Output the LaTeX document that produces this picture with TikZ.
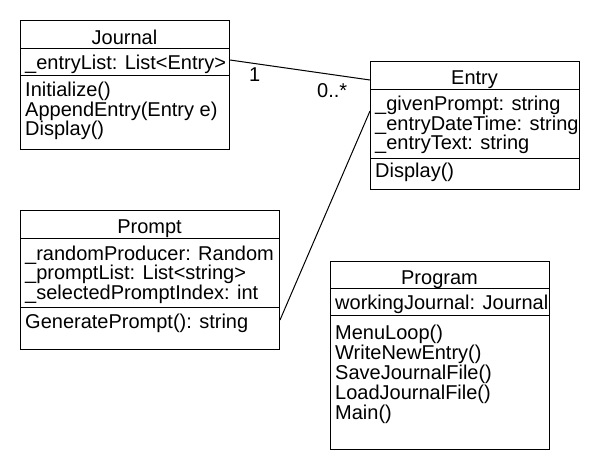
\documentclass[tikz,border=0pt]{standalone}
\usepackage{fontspec}
\setmainfont{Liberation Sans}
\begin{document}
\begin{tikzpicture}[x=1pt,y=-1pt,
  box/.style={draw, line width=1pt, inner sep=0pt, anchor=north west},
  txt/.style={inner sep=0pt, anchor=base west, font=\fontsize{20}{20}\selectfont},
  ttl/.style={inner sep=0pt, anchor=base, font=\fontsize{20}{20}\selectfont},
  sep/.style={line width=1pt},
  conn/.style={line width=1pt}]
\useasboundingbox (0,0) rectangle (600,470);

% ---------- Journal ----------
\node[box, minimum width=209pt, minimum height=129pt] (journal) at (20,20) {};
\draw[sep] (journal.west |- 0,49) -- (journal.east |- 0,49);
\draw[sep] (journal.west |- 0,76) -- (journal.east |- 0,76);
\node[ttl] (jt) at (124.5,44.5) {Journal};
\node[txt] (ja1) at (25,70) {\_entryList: List<Entry>};
\node[txt] (jm1) at (25,97) {Initialize()};
\node[txt] (jm2) at (25,116.5) {AppendEntry(Entry e)};
\node[txt] (jm3) at (25,136) {Display()};

% ---------- Entry ----------
\node[box, minimum width=209pt, minimum height=128pt] (entry) at (370,61) {};
\draw[sep] (entry.west |- 0,90) -- (entry.east |- 0,90);
\draw[sep] (entry.west |- 0,159) -- (entry.east |- 0,159);
\node[ttl] (et) at (474.5,85) {Entry};
\node[txt] (ea1) at (375,111) {\_givenPrompt: string};
\node[txt] (ea2) at (375,130.5) {\_entryDateTime: string};
\node[txt] (ea3) at (375,150) {\_entryText: string};
\node[txt] (em1) at (375,178) {Display()};

% ---------- Prompt ----------
\node[box, minimum width=259pt, minimum height=139pt] (prompt) at (20,210) {};
\draw[sep] (prompt.west |- 0,239) -- (prompt.east |- 0,239);
\draw[sep] (prompt.west |- 0,308) -- (prompt.east |- 0,308);
\node[ttl] (pt) at (149.5,234) {Prompt};
\node[txt] (pa1) at (25,260.5) {\_randomProducer: Random};
\node[txt] (pa2) at (25,280) {\_promptList: List<string>};
\node[txt] (pa3) at (25,299.5) {\_selectedPromptIndex: int};
\node[txt] (pm1) at (25,329) {GeneratePrompt(): string};

% ---------- Program ----------
\node[box, minimum width=219pt, minimum height=188pt] (program) at (330,261) {};
\draw[sep] (program.west |- 0,289) -- (program.east |- 0,289);
\draw[sep] (program.west |- 0,316) -- (program.east |- 0,316);
\node[ttl] (gt) at (439.5,285) {Program};
\node[txt] (ga1) at (335,310) {workingJournal: Journal};
\node[txt] (gm1) at (335,340) {MenuLoop()};
\node[txt] (gm2) at (335,359.8) {WriteNewEntry()};
\node[txt] (gm3) at (335,379.6) {SaveJournalFile()};
\node[txt] (gm4) at (335,399.4) {LoadJournalFile()};
\node[txt] (gm5) at (335,419.2) {Main()};

% ---------- connectors ----------
\draw[conn] (journal.east |- 0,60) -- (entry.west |- 0,80);
\draw[conn] (prompt.east |- 0,320) -- (entry.west |- 0,111);
\node[txt] (m1) at (249,82) {1};
\node[txt] (m2) at (317,98) {0..*};
\end{tikzpicture}
\end{document}
